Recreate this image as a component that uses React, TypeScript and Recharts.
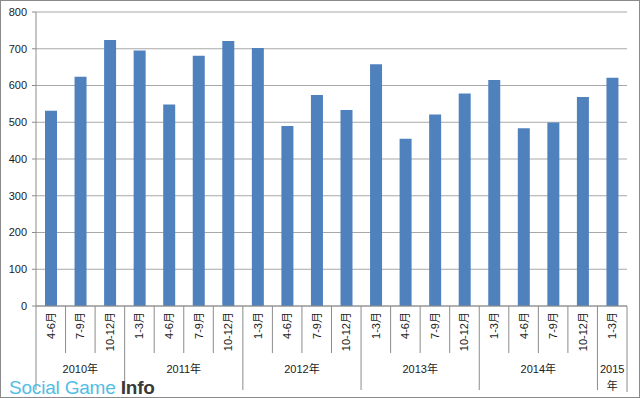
import { Bar, BarChart, CartesianGrid, XAxis, YAxis } from "recharts";

const quarters = [
  "4-6月", "7-9月", "10-12月",
  "1-3月", "4-6月", "7-9月", "10-12月",
  "1-3月", "4-6月", "7-9月", "10-12月",
  "1-3月", "4-6月", "7-9月", "10-12月",
  "1-3月", "4-6月", "7-9月", "10-12月",
  "1-3月",
];
const sales = [
  531, 624, 724,
  695, 548, 681, 721,
  702, 490, 574, 533,
  658, 455, 521, 578,
  615, 484, 499, 569,
  621,
];
const yearLabels = ["2010年", "2011年", "2012年", "2013年", "2014年", "2015年"];
const yearSpans = [3, 4, 4, 4, 4, 1];
const yTicks = [0, 100, 200, 300, 400, 500, 600, 700, 800];

const W = 640;
const H = 398;
const LEFT = 36;
const RIGHT = 13;
const BAND = (W - LEFT - RIGHT) / quarters.length;
const FONT = "'Liberation Sans', Arial, 'Noto Sans CJK JP', sans-serif";
const LINE = "#8c8c8c";

const data = quarters.map((q, i) => ({ name: `${q}#${i}`, q, value: sales[i] }));

const groupStarts: number[] = [];
yearSpans.reduce((acc, n) => {
  groupStarts.push(acc);
  return acc + n;
}, 0);

function QuarterTick(props: any) {
  const { x, y, index } = props;
  const left = x - BAND / 2;
  const g = groupStarts.indexOf(index);
  const isLast = index === quarters.length - 1;
  return (
    <g>
      <line x1={left} x2={left} y1={y} y2={g >= 0 ? y + 84 : y + 47} stroke={LINE} />
      {isLast && (
        <line x1={x + BAND / 2} x2={x + BAND / 2} y1={y} y2={y + 86} stroke={LINE} />
      )}
      <text
        x={x}
        y={y + 6}
        transform={`rotate(-90, ${x}, ${y + 6})`}
        textAnchor="end"
        dominantBaseline="central"
        fontSize={11}
        fontFamily={FONT}
        fill="#1a1a1a"
      >
        {quarters[index]}
      </text>
      {g >= 0 &&
        (yearSpans[g] > 1 ? (
          <text
            x={left + (yearSpans[g] * BAND) / 2}
            y={y + 67}
            textAnchor="middle"
            fontSize={11}
            fontFamily={FONT}
            fill="#1a1a1a"
          >
            {yearLabels[g]}
          </text>
        ) : (
          <text
            x={left + BAND / 2}
            textAnchor="middle"
            fontSize={11}
            fontFamily={FONT}
            fill="#1a1a1a"
          >
            <tspan x={left + BAND / 2} y={y + 67}>
              {yearLabels[g].slice(0, 4)}
            </tspan>
            <tspan x={left + BAND / 2} y={y + 84}>
              {yearLabels[g].slice(4)}
            </tspan>
          </text>
        ))}
    </g>
  );
}

export default function App() {
  return (
    <div style={{ position: "absolute", left: 0, top: 0, width: W, height: H, background: "#fff" }}>
      <BarChart
        width={W}
        height={H}
        data={data}
        margin={{ top: 12, right: RIGHT, left: 0, bottom: 0 }}
      >
        <CartesianGrid vertical={false} stroke="#a8a8a8" />
        <XAxis
          dataKey="name"
          height={92}
          interval={0}
          tickLine={false}
          tickSize={0}
          tickMargin={0}
          axisLine={{ stroke: LINE }}
          tick={<QuarterTick />}
        />
        <YAxis
          width={LEFT}
          domain={[0, 800]}
          ticks={yTicks}
          interval={0}
          tickSize={4}
          tickMargin={5}
          tickLine={{ stroke: LINE }}
          axisLine={{ stroke: LINE }}
          tick={{ fill: "#1a1a1a", fontSize: 11, fontFamily: FONT }}
        />
        <Bar dataKey="value" fill="#4f81bd" barSize={12} isAnimationActive={false} />
      </BarChart>
      <div
        style={{
          position: "absolute",
          left: 9,
          top: 379,
          fontFamily: "'Liberation Sans', Arial, sans-serif",
          fontSize: 19,
          lineHeight: "18px",
          letterSpacing: -0.2,
          whiteSpace: "nowrap",
        }}
      >
        <span style={{ color: "#52bde4" }}>Social Game </span>
        <span style={{ color: "#3a3a3a", fontWeight: "bold" }}>Info</span>
      </div>
      <div
        style={{
          position: "absolute",
          left: 0,
          top: 0,
          width: W,
          height: H,
          boxSizing: "border-box",
          border: "1px solid #8a8a8a",
          pointerEvents: "none",
        }}
      />
    </div>
  );
}
